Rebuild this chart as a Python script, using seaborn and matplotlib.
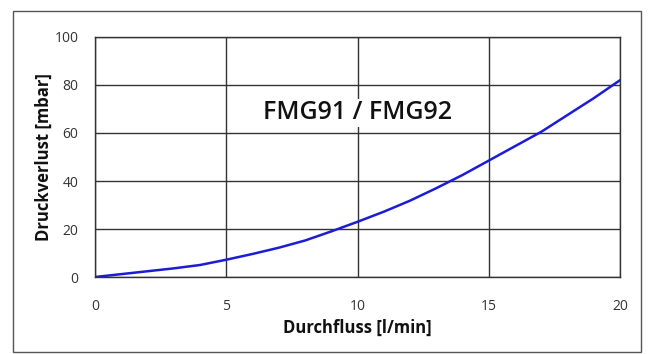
import numpy as np
import pandas as pd
import matplotlib
matplotlib.use('Agg')
import matplotlib.pyplot as plt
from matplotlib.patches import Rectangle
import seaborn as sns

# flow [l/min] vs pressure loss [mbar]
flow = [0, 1, 2, 3, 4, 5, 6, 7, 8, 9, 10, 11, 12, 13, 14, 15, 16, 17, 18, 19, 20]
dp   = [0, 1.2, 2.4, 3.6, 5.0, 7.2, 9.6, 12.2, 15.2, 19.0, 23.0, 27.2, 31.8, 37.0, 42.5, 48.5, 54.5, 60.5, 67.5, 74.5, 82.0]
x_ticks = [0, 5, 10, 15, 20]
y_ticks = [0, 20, 40, 60, 80, 100]

df = pd.DataFrame({'flow': flow, 'dp': dp})

sns.set_theme(style='white')
plt.rcParams['font.family'] = ['Open Sans', 'DejaVu Sans']

fig = plt.figure(figsize=(6.48, 3.54), dpi=100)
ax = fig.add_axes([0.1466, 0.2175, 0.8102, 0.678])

sns.lineplot(data=df, x='flow', y='dp', ax=ax, color='#1c1cd8', lw=1.8)

ax.set_xlim(0, 20)
ax.set_ylim(0, 100)
ax.set_xticks(x_ticks)
ax.set_yticks(y_ticks)
ax.grid(True, color='#333333', lw=1.0)
ax.set_axisbelow(True)
for s in ax.spines.values():
    s.set_color('#333333')
    s.set_linewidth(1.0)
ax.tick_params(axis='both', direction='out', length=4, width=1, color='#333333',
               labelsize=10, labelcolor='#333333')
ax.tick_params(axis='x', pad=12)
ax.tick_params(axis='y', pad=8)

ax.set_xlabel('Durchfluss [l/min]', fontsize=12, fontweight='bold', labelpad=3,
              color='#111111')
ax.set_ylabel('Druckverlust [mbar]', fontsize=12, fontweight='bold', labelpad=1,
              color='#111111')

ax.text(10, 68.5, 'FMG91 / FMG92', fontsize=18, fontweight='semibold', ha='center',
        va='center', color='#111111',
        bbox=dict(facecolor='white', edgecolor='none', pad=1))

# outer frame around the chart
fig.patches.append(Rectangle((13 / 648, 2 / 354), 628 / 648, 341 / 354,
                             transform=fig.transFigure, fill=False,
                             edgecolor='#555555', lw=1.0))

plt.savefig('out.png', dpi=100)
plt.close()
